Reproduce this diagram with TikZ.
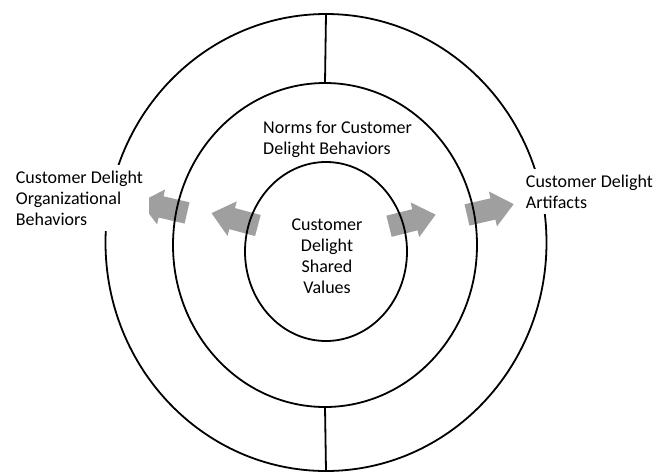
\documentclass[tikz,border=0pt]{standalone}
\usepackage{fontspec}
\setmainfont{Carlito}
\usetikzlibrary{shapes.geometric,shapes.arrows}

\begin{document}
\begin{tikzpicture}[x=1pt,y=-1pt,line width=1.8pt,
    every node/.style={font=\fontsize{18}{21}\selectfont},
    ring/.style={draw,ellipse,inner sep=0pt,outer sep=0pt},
    push/.style={single arrow,fill=gray!75,draw=none,inner sep=0pt,
      text height=10pt,text depth=10pt,minimum height=48pt,
      single arrow head extend=7pt,single arrow tip angle=80},
    lbl/.style={align=left,fill=white,inner sep=6pt}]
  \useasboundingbox (0,0) rectangle (656,472);
  % arrows sit under the rings
  \node[push,rotate=167] (outleft) at (170,209) {};
  \node[push,rotate=165] (inleft) at (241,221) {};
  \node[push,rotate=14] (inright) at (406,222) {};
  \node[push,rotate=13] (outright) at (484,211) {};
  % rings
  \node[ring,minimum width=441pt,minimum height=457pt] (outer) at (326,242.5) {};
  \node[ring,minimum width=304pt,minimum height=324pt] (middle) at (325,245) {};
  \node[ring,minimum width=162pt,minimum height=179pt] (inner) at (326,251.5) {};
  \draw (outer.north) -- (middle.north);
  \draw (middle.south) -- (outer.south);
  % labels (base = last line)
  \node[lbl,anchor=base west] (orglbl) at (9,225) {Customer Delight\\Organizational\\Behaviors};
  \node[lbl,anchor=base west] (artlbl) at (519,208) {Customer Delight\\Artifacts};
  \node[align=left,anchor=base west] (normlbl) at (259,154) {Norms for Customer\\Delight Behaviors};
  \node[align=center,anchor=base] (vallbl) at (327,293) {Customer\\Delight\\Shared\\Values};
\end{tikzpicture}
\end{document}
